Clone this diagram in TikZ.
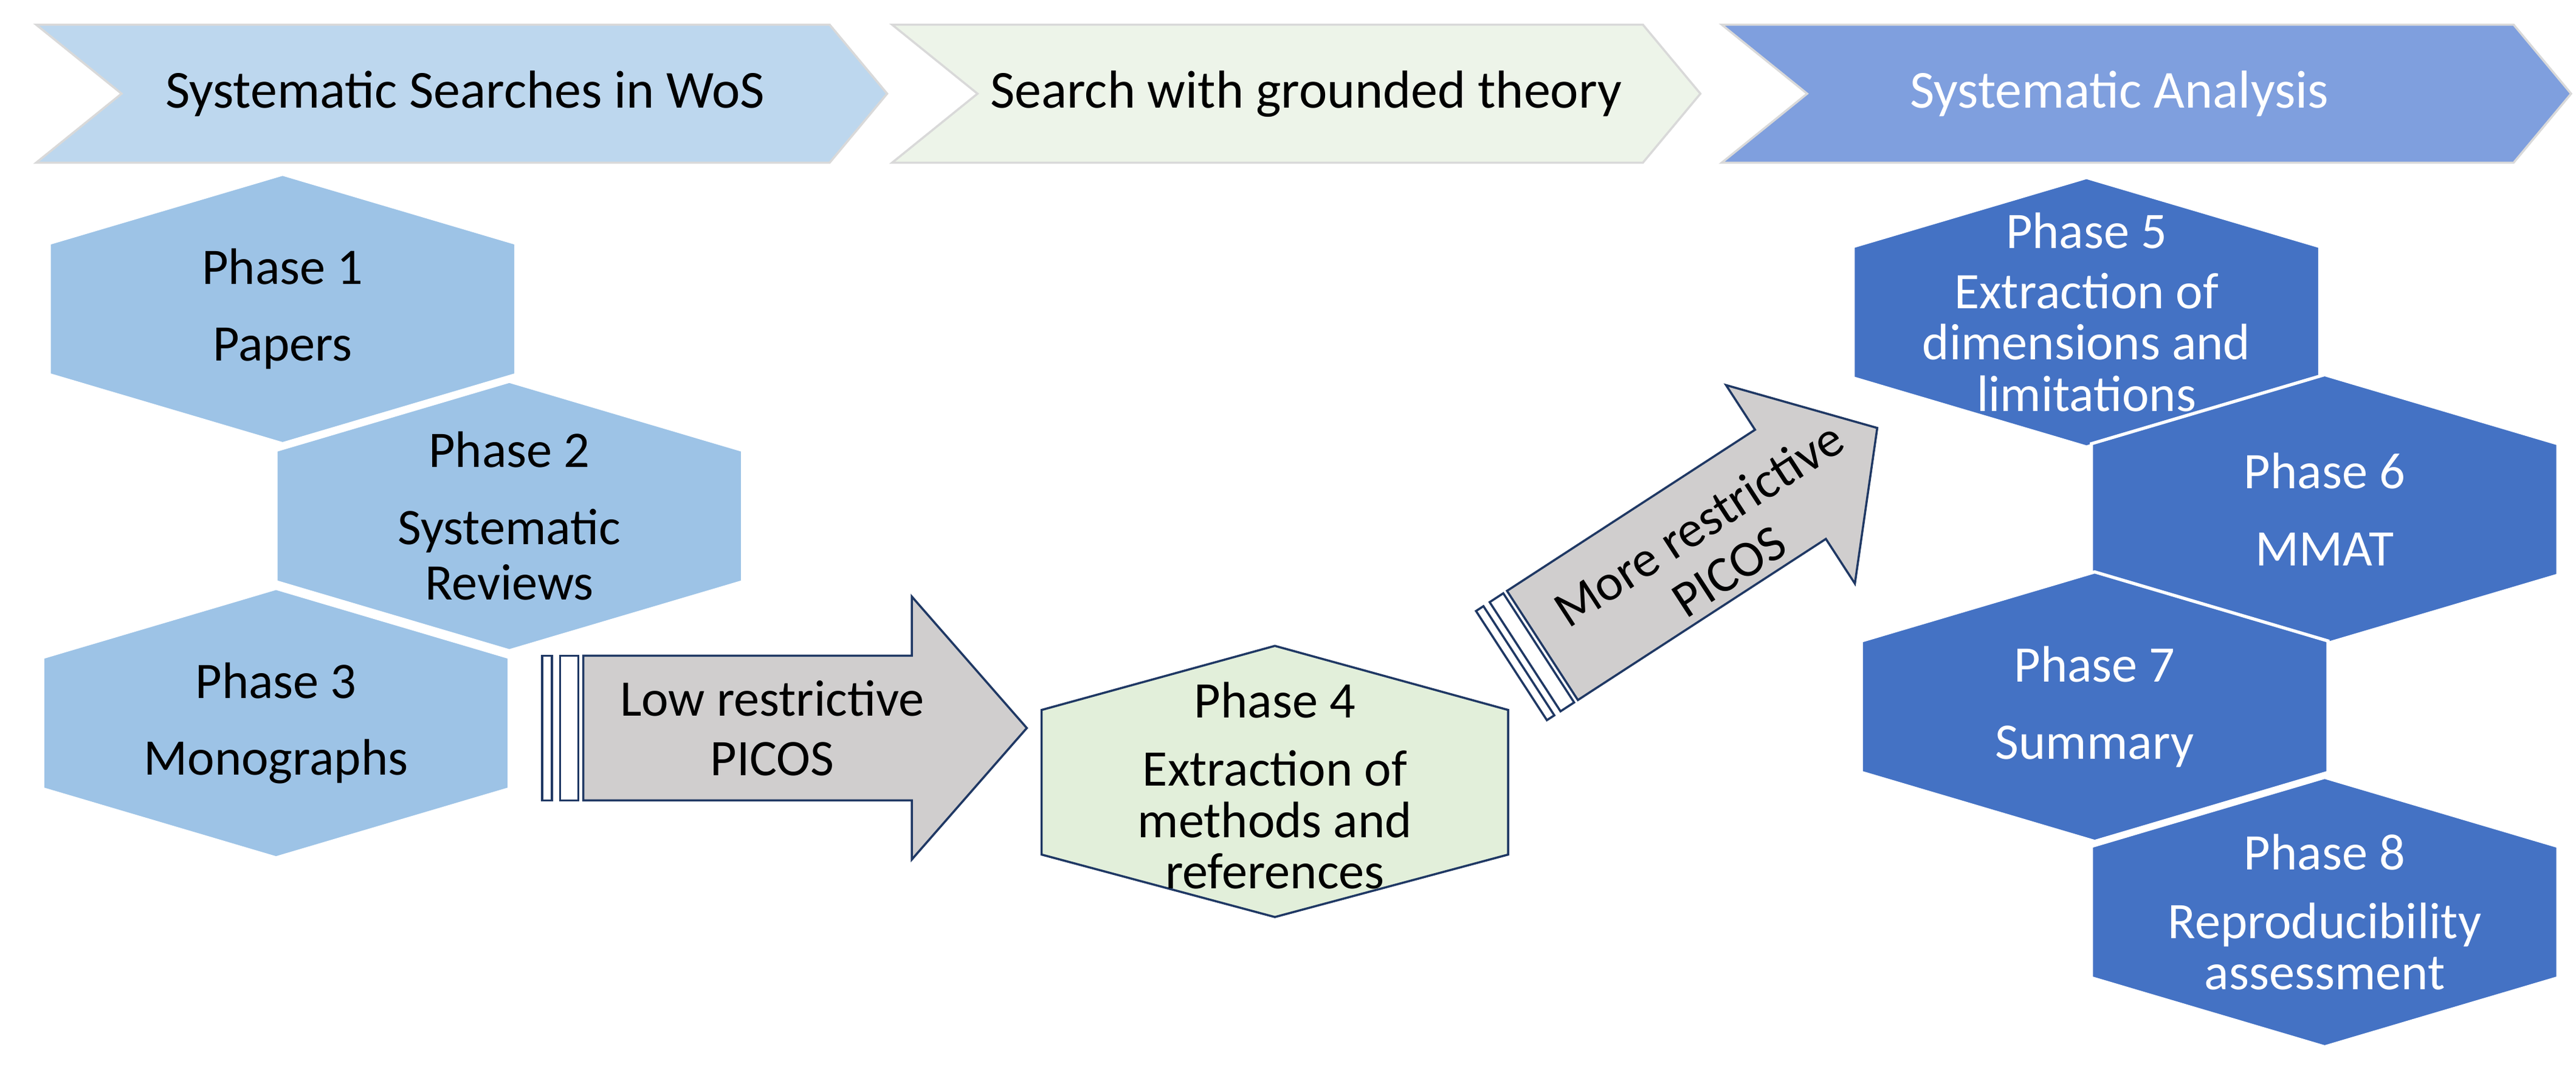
\documentclass[tikz,border=0pt]{standalone}
\usepackage{fontspec}
\setmainfont{Carlito}
\definecolor{paleblue}{RGB}{157,195,230}
\definecolor{deepblue}{RGB}{68,114,196}
\definecolor{chevblue}{RGB}{189,215,238}
\definecolor{chevgreen}{RGB}{237,244,233}
\definecolor{chevdark}{RGB}{127,159,222}
\definecolor{mintfill}{RGB}{226,239,218}
\definecolor{arrowgrey}{RGB}{208,206,206}
\definecolor{navy}{RGB}{31,56,100}
\usetikzlibrary{positioning,calc}
\tikzset{
  chevron/.style={draw=white!70!gray, line width=1pt},
  hexa/.style={draw=white, line width=1.5pt},
  label/.style={align=center, font=\fontsize{24}{36}\selectfont},
  headtext/.style={font=\fontsize{25}{30}\selectfont},
  bigarrow/.style={draw=navy, fill=arrowgrey, line width=1pt}
}
% hexagon centred at #1, filled #2, named #3, text #4, text colour #5
\newcommand{\phasehex}[5]{%
  \path[hexa, fill=#2] ($#1+(0,-82)$) -- ($#1+(142,-40)$) -- ($#1+(142,40)$)
    -- ($#1+(0,82)$) -- ($#1+(-142,40)$) -- ($#1+(-142,-40)$) -- cycle;
  \node[label, text=#5] (#3) at #1 {#4};}
% chevron from x #1 to tip #2 (notch 52, point 35), filled #3
\newcommand{\chevron}[3]{%
  \path[chevron, fill=#3] (#1,15) -- ({#2-35},15) -- (#2,57) -- ({#2-35},99)
    -- (#1,99) -- ({#1+52},57) -- cycle;}
% block arrow in local coordinates
\newcommand{\blockarrow}{%
  \draw[bigarrow, fill=white] (0,-44) rectangle (6,44);
  \draw[bigarrow, fill=white] (11,-44) rectangle (22,44);
  \draw[bigarrow] (25,-44) -- (225,-44) -- (225,-80) -- (295,0) -- (225,80)
    -- (225,44) -- (25,44) -- cycle;}
\begin{document}
\begin{tikzpicture}[x=0.02703cm, y=-0.02703cm]
  \useasboundingbox (0,0) rectangle (1568,654);
  % headers
  \chevron{22}{540}{chevblue}
  \chevron{543}{1035}{chevgreen}
  \chevron{1048}{1565}{chevdark}
  \node[headtext] (head1) at (283,57) {Systematic Searches in WoS};
  \node[headtext] (head2) at (795,57) {Search with grounded theory};
  \node[headtext, text=white] (head3) at (1290,57) {Systematic Analysis};
  % searches in WoS
  \phasehex{(172,188)}{paleblue}{phase1}{Phase 1\\Papers}{black}
  \phasehex{(310,314)}{paleblue}{phase2}{Phase 2\\Systematic\\[-10pt]Reviews}{black}
  \phasehex{(168,440)}{paleblue}{phase3}{Phase 3\\Monographs}{black}
  % low restrictive arrow
  \begin{scope}[shift={(330,443)}]
    \blockarrow
  \end{scope}
  \node[label] (low) at (470,443) {Low restrictive\\[-8pt]PICOS};
  % grounded theory
  \path[draw=navy, fill=mintfill, line width=1pt] (776,558) -- (918,520)
    -- (918,432) -- (776,393) -- (634,432) -- (634,520) -- cycle;
  \node[label] (phase4) at (776,478) {Phase 4\\[-4pt]Extraction of\\[-12pt]methods and\\[-12pt]references};
  % more restrictive arrow
  \begin{scope}[shift={(920,405)}, rotate=33, scale=0.9]
    \blockarrow
  \end{scope}
  \node[label, rotate=33] (more) at (1043,333) {More restrictive\\[-10pt]PICOS};
  % systematic analysis
  \phasehex{(1270,190)}{deepblue}{phase5}{Phase 5\\[-8pt]Extraction of\\[-12pt]dimensions and\\[-12pt]limitations}{white}
  \phasehex{(1415,310)}{deepblue}{phase6}{Phase 6\\MMAT}{white}
  \phasehex{(1275,430)}{deepblue}{phase7}{Phase 7\\Summary}{white}
  \phasehex{(1415,555)}{deepblue}{phase8}{Phase 8\\[-4pt]Reproducibility\\[-12pt]assessment}{white}
\end{tikzpicture}
\end{document}
